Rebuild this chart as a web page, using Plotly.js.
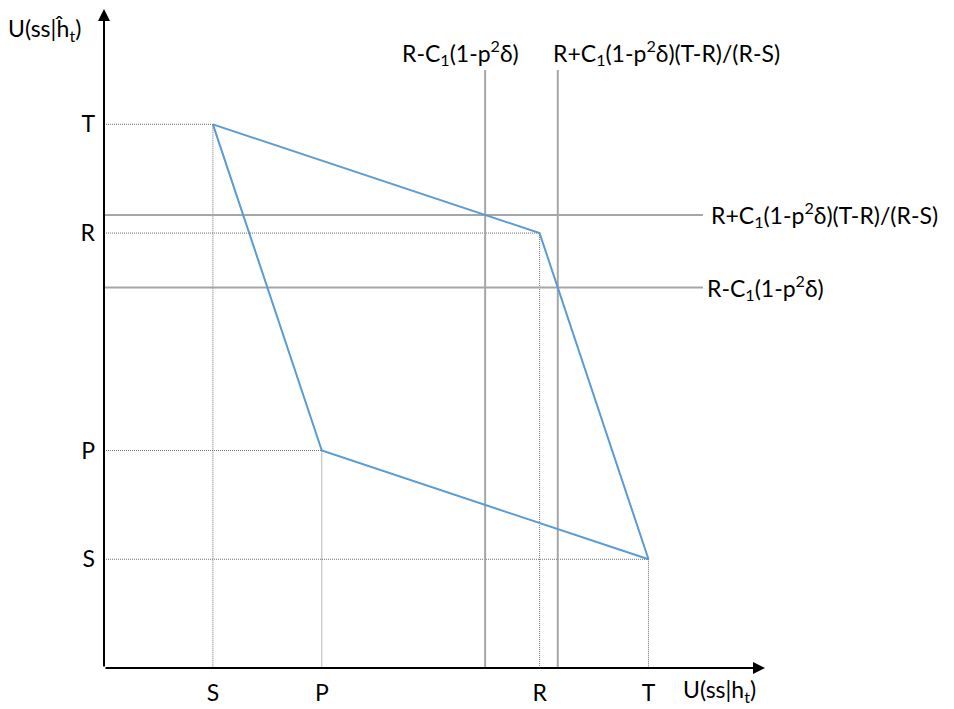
<!DOCTYPE html>
<html>
<head>
<meta charset="utf-8">
<script src="https://cdn.plot.ly/plotly-3.0.1.min.js"></script>
<style>html,body{margin:0;padding:0;background:#fff;}#chart{width:954px;height:709px;}</style>
</head>
<body>
<div id="chart"></div>
<script>
// Payoff levels (ordinal positions on both axes)
const levelNames = ['S', 'P', 'R', 'T'];
const levelValues = [1, 2, 4, 5];

// Outcome corners: (own payoff, other's payoff)  CD, CC, DC, DD
const cornerX = [1, 4, 5, 2, 1];
const cornerY = [5, 4, 1, 2, 5];

// Threshold lines
const thresholdLabels = ['R-C<sub>1</sub>(1-p<sup>2</sup>δ)', 'R+C<sub>1</sub>(1-p<sup>2</sup>δ)(T-R)/(R-S)'];
const thresholdValues = [3.5, 4.167];
const thresholdExtent = 5.5;

const axisMax = 6.07;

const traces = [];
const dotStyle = {color: '#6f6f6f', width: 1, dash: '1px,1px'};
// dotted guides from corners to axes
const guidePts = [[1,5],[4,4],[5,1],[2,2]];
guidePts.forEach(p => {
  traces.push({x: [0, p[0]], y: [p[1], p[1]], mode: 'lines', line: dotStyle, hoverinfo: 'skip', showlegend: false});
  traces.push({x: [p[0], p[0]], y: [p[1], 0], mode: 'lines', line: dotStyle, hoverinfo: 'skip', showlegend: false});
});
// threshold lines
thresholdValues.forEach(v => {
  traces.push({x: [v, v], y: [0, thresholdExtent], mode: 'lines', line: {color: '#a6a6a6', width: 2}, hoverinfo: 'skip', showlegend: false});
  traces.push({x: [0, thresholdExtent], y: [v, v], mode: 'lines', line: {color: '#a6a6a6', width: 2}, hoverinfo: 'skip', showlegend: false});
});
// payoff polygon
traces.push({x: cornerX, y: cornerY, mode: 'lines', line: {color: '#5b9bd5', width: 2}, showlegend: false});

const fnt = {family: 'Lato, "Open Sans", sans-serif', size: 23, color: '#000'};
const annotations = [
  // axis arrows
  {x: axisMax, y: 0, ax: 0, ay: 0, axref: 'x', ayref: 'y', xref: 'x', yref: 'y', text: '', showarrow: true, arrowhead: 2, arrowsize: 1.2, arrowwidth: 2, arrowcolor: '#000'},
  {x: 0, y: axisMax - 0.01, ax: 0, ay: 0, axref: 'x', ayref: 'y', xref: 'x', yref: 'y', text: '', showarrow: true, arrowhead: 2, arrowsize: 1.2, arrowwidth: 2, arrowcolor: '#000'},
  // axis titles
  {xref: 'paper', yref: 'paper', x: -0.148, y: 0.968, xanchor: 'left', yanchor: 'middle', text: 'U(ss|ĥ<sub>t</sub>)', showarrow: false, font: fnt},
  {xref: 'x', yref: 'paper', x: 5.3, y: -0.034, xanchor: 'left', yanchor: 'middle', text: 'U(ss|h<sub>t</sub>)', showarrow: false, font: fnt},
  // vertical threshold labels
  {xref: 'x', yref: 'y', x: 3.27, y: 5.66, xanchor: 'center', yanchor: 'middle', text: thresholdLabels[0], showarrow: false, font: fnt},
  {xref: 'x', yref: 'y', x: 5.17, y: 5.66, xanchor: 'center', yanchor: 'middle', text: thresholdLabels[1], showarrow: false, font: fnt},
  // horizontal threshold labels
  {xref: 'x', yref: 'y', x: 5.56, y: thresholdValues[1], xanchor: 'left', yanchor: 'middle', text: thresholdLabels[1], showarrow: false, font: fnt},
  {xref: 'x', yref: 'y', x: 5.52, y: thresholdValues[0], xanchor: 'left', yanchor: 'middle', text: thresholdLabels[0], showarrow: false, font: fnt}
];

const layout = {
  width: 954, height: 709,
  margin: {l: 104, r: 189, t: 8, b: 41},
  paper_bgcolor: '#fff', plot_bgcolor: '#fff',
  font: fnt,
  showlegend: false,
  xaxis: {range: [0, axisMax], tickvals: levelValues, ticktext: levelNames, showgrid: false, zeroline: false, showline: false, ticks: '', ticklabelstandoff: 9, tickfont: fnt, fixedrange: true},
  yaxis: {range: [0, axisMax], tickvals: levelValues, ticktext: levelNames, showgrid: false, zeroline: false, showline: false, ticks: '', ticklabelstandoff: 8, tickfont: fnt, fixedrange: true},
  annotations: annotations
};

Plotly.newPlot('chart', traces, layout, {displayModeBar: false, staticPlot: true});
</script>
</body>
</html>
